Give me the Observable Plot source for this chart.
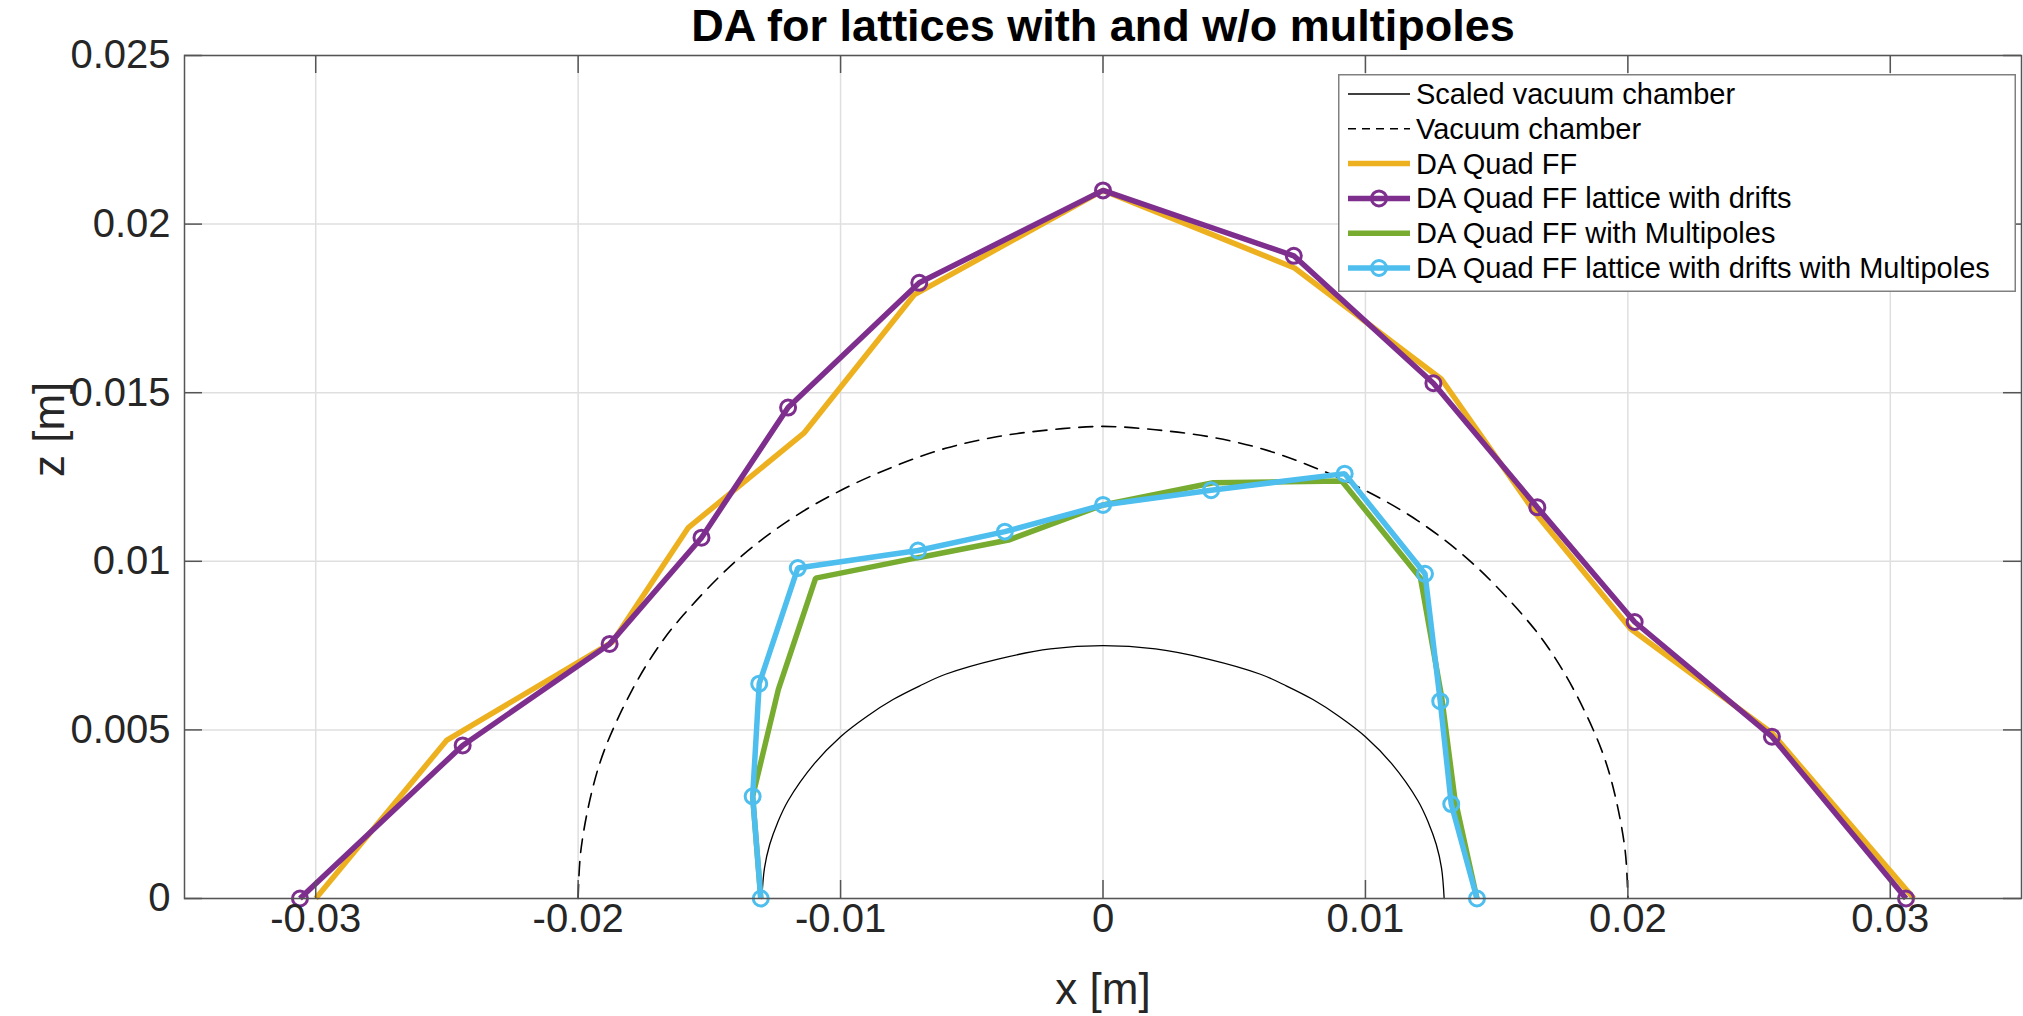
<!DOCTYPE html>
<html>
<head>
<meta charset="utf-8">
<script src="https://cdn.jsdelivr.net/npm/d3@7"></script>
<script src="https://cdn.jsdelivr.net/npm/@observablehq/plot@0.6"></script>
<style>
  html, body { margin: 0; padding: 0; background: #fff; }
  #wrap { position: relative; width: 2023px; height: 1016px; font-family: "Liberation Sans", Arial, Helvetica, sans-serif; }
  #legend { position: absolute; left: 1338px; top: 74px; }
</style>
</head>
<body>
<div id="wrap"></div>
<script>
// ---- data ----
const titleText = "DA for lattices with and w/o multipoles";
const xLabel = "x [m]";
const yLabel = "z [m]";
const xTicks = [-0.03, -0.02, -0.01, 0, 0.01, 0.02, 0.03];
const yTicks = [0, 0.005, 0.01, 0.015, 0.02, 0.025];

const seriesNames = [
  "Scaled vacuum chamber",
  "Vacuum chamber",
  "DA Quad FF",
  "DA Quad FF lattice with drifts",
  "DA Quad FF with Multipoles",
  "DA Quad FF lattice with drifts with Multipoles"
];
const seriesColors = ["#000000", "#000000", "#EDB120", "#7E2F8E", "#77AC30", "#4DBEEE"];

// Scaled vacuum chamber (solid thin)
const scaledX = [-0.0130, -0.0129, -0.0127, -0.0124, -0.0120, -0.0110, -0.0100, -0.0090, -0.0080, -0.0070, -0.0060, -0.0040, -0.0020, 0,
                 0.0020, 0.0040, 0.0060, 0.0070, 0.0080, 0.0090, 0.0100, 0.0110, 0.0120, 0.0124, 0.0127, 0.0129, 0.0130];
const scaledZ = [0, 0.0009, 0.0016, 0.00225, 0.0029, 0.0040, 0.0048, 0.0054, 0.0059, 0.0063, 0.00665, 0.0071, 0.0074, 0.0075,
                 0.0074, 0.0071, 0.00665, 0.0063, 0.0059, 0.0054, 0.0048, 0.0040, 0.0029, 0.00225, 0.0016, 0.0009, 0];

// Vacuum chamber (dashed)
const chamberX = [-0.0200, -0.0199, -0.0195, -0.0190, -0.0180, -0.0170, -0.0160, -0.0140, -0.0120, -0.0100, -0.0080, -0.0060, -0.0040, -0.0020, 0,
                  0.0020, 0.0040, 0.0060, 0.0080, 0.0100, 0.0120, 0.0140, 0.0160, 0.0170, 0.0180, 0.0190, 0.0195, 0.0199, 0.0200];
const chamberZ = [0, 0.0014, 0.0031, 0.0044, 0.0061, 0.0074, 0.0084, 0.0100, 0.0112, 0.0121, 0.0128, 0.01335, 0.0137, 0.0139, 0.0140,
                  0.0139, 0.0137, 0.01335, 0.0128, 0.0121, 0.0112, 0.0100, 0.0084, 0.0074, 0.0061, 0.0044, 0.0031, 0.0014, 0];

// DA Quad FF (orange)
const quadX = [-0.0300, -0.0250, -0.0187, -0.0158, -0.0114, -0.0072, 0, 0.0073, 0.0129, 0.0165, 0.0201, 0.0255, 0.0309];
const quadZ = [0, 0.0047, 0.0076, 0.0110, 0.0138, 0.0179, 0.0210, 0.0187, 0.0154, 0.0114, 0.0080, 0.0049, 0];

// DA Quad FF lattice with drifts (purple, circles)
const driftX = [-0.0306, -0.0244, -0.0188, -0.0153, -0.0120, -0.0070, 0, 0.00727, 0.01259, 0.01655, 0.02026, 0.02549, 0.0306];
const driftZ = [0, 0.00454, 0.00755, 0.0107, 0.01456, 0.01826, 0.0210, 0.01906, 0.01528, 0.0116, 0.0082, 0.0048, 0];

// DA Quad FF with Multipoles (green)
const multX = [-0.01304, -0.01335, -0.01237, -0.01095, -0.0071, -0.0036, 0, 0.0042, 0.0091, 0.0121, 0.0129, 0.0134, 0.01425];
const multZ = [0, 0.00303, 0.0062, 0.0095, 0.0101, 0.01063, 0.01167, 0.01233, 0.01238, 0.0095, 0.0060, 0.0030, 0];

// DA Quad FF lattice with drifts with Multipoles (cyan, circles)
const driftMultX = [-0.01304, -0.01335, -0.0131, -0.01163, -0.00705, -0.00374, 0, 0.00412, 0.00921, 0.01227, 0.01285, 0.01327, 0.01425];
const driftMultZ = [0, 0.00303, 0.00637, 0.0098, 0.01032, 0.01088, 0.01167, 0.01211, 0.0126, 0.00963, 0.00585, 0.0028, 0];

// ---- build tables ----
const toRows = (xs, zs) => xs.map((x, i) => ({x, z: zs[i]}));
const scaledRows = toRows(scaledX, scaledZ);
const chamberRows = toRows(chamberX, chamberZ);
const quadRows = toRows(quadX, quadZ);
const driftRows = toRows(driftX, driftZ);
const multRows = toRows(multX, multZ);
const driftMultRows = toRows(driftMultX, driftMultZ);

const W = 2023, H = 1016;
const mTop = 55, mBottom = 118, mLeft = 184, mRight = 2;
const frameW = W - mLeft - mRight, frameH = H - mTop - mBottom;
const tickLen = 18;
const axisGray = "#555555";
const gridGray = "#dfdfdf";
const thick = 5.5;
const fmt = d => String(d);
const lineOpts = {strokeLinejoin: "miter", strokeLinecap: "butt"};

const chart = Plot.plot({
  width: W, height: H,
  marginTop: mTop, marginBottom: mBottom, marginLeft: mLeft, marginRight: mRight,
  x: {domain: [-0.035, 0.035]},
  y: {domain: [0, 0.025]},
  style: {fontFamily: '"Liberation Sans", Arial, Helvetica, sans-serif', fontSize: "40px", color: "#262626", background: "#ffffff", overflow: "visible"},
  marks: [
    Plot.gridX(xTicks, {stroke: gridGray, strokeOpacity: 1, strokeWidth: 1.5}),
    Plot.gridY(yTicks, {stroke: gridGray, strokeOpacity: 1, strokeWidth: 1.5}),
    Plot.line(scaledRows, {x: "x", y: "z", stroke: seriesColors[0], strokeWidth: 1.3, curve: "catmull-rom"}),
    Plot.line(chamberRows, {x: "x", y: "z", stroke: seriesColors[1], strokeWidth: 1.6, strokeDasharray: "14,9", curve: "catmull-rom"}),
    Plot.line(quadRows, {x: "x", y: "z", stroke: seriesColors[2], strokeWidth: thick, ...lineOpts}),
    Plot.line(driftRows, {x: "x", y: "z", stroke: seriesColors[3], strokeWidth: thick, ...lineOpts}),
    Plot.dot(driftRows, {x: "x", y: "z", r: 7.5, stroke: seriesColors[3], strokeWidth: 3, fill: "none"}),
    Plot.line(multRows, {x: "x", y: "z", stroke: seriesColors[4], strokeWidth: thick, ...lineOpts}),
    Plot.line(driftMultRows, {x: "x", y: "z", stroke: seriesColors[5], strokeWidth: thick, ...lineOpts}),
    Plot.dot(driftMultRows, {x: "x", y: "z", r: 7.5, stroke: seriesColors[5], strokeWidth: 3, fill: "none"}),
    // inward ticks on all four sides
    Plot.tickX(xTicks, {x: d => d, insetTop: frameH - tickLen, stroke: axisGray, strokeWidth: 1.5}),
    Plot.tickX(xTicks, {x: d => d, insetBottom: frameH - tickLen, stroke: axisGray, strokeWidth: 1.5}),
    Plot.tickY(yTicks, {y: d => d, insetRight: frameW - tickLen, stroke: axisGray, strokeWidth: 1.5}),
    Plot.tickY(yTicks, {y: d => d, insetLeft: frameW - tickLen, stroke: axisGray, strokeWidth: 1.5}),
    Plot.frame({stroke: axisGray, strokeWidth: 1.5}),
    Plot.axisX(xTicks, {tickSize: 0, tickPadding: 5, tickFormat: fmt, label: null, fill: "#262626"}),
    Plot.axisY(yTicks, {tickSize: 0, tickPadding: 14, tickFormat: fmt, label: null, fill: "#262626"}),
    Plot.text([titleText], {frameAnchor: "top", dy: -29, fontSize: 45, fontWeight: "bold", fill: "#000000", lineAnchor: "middle"}),
    Plot.text([xLabel], {frameAnchor: "bottom", dy: 91, fontSize: 44, fill: "#262626", lineAnchor: "middle"}),
    Plot.text([yLabel], {frameAnchor: "left", dx: -135, rotate: -90, fontSize: 44, fill: "#262626", lineAnchor: "middle"})
  ]
});
const wrap = document.getElementById("wrap");
wrap.appendChild(chart);

// ---- legend ----
const lgW = 678, lgH = 218, rowH = 34.8, row0 = 20, swX1 = 10, swX2 = 72, txtX = 78;
const ns = "http://www.w3.org/2000/svg";
const lg = d3.create("svg").attr("id", "legend").attr("width", lgW).attr("height", lgH)
  .attr("xmlns", ns);
lg.append("rect").attr("x", 0.75).attr("y", 0.75).attr("width", lgW - 1.5).attr("height", lgH - 1.5)
  .attr("fill", "#ffffff").attr("stroke", "#808080").attr("stroke-width", 1.5);
const styles = [
  {w: 1.3, dash: null, marker: false},
  {w: 1.6, dash: "8,6", marker: false},
  {w: thick, dash: null, marker: false},
  {w: thick, dash: null, marker: true},
  {w: thick, dash: null, marker: false},
  {w: thick, dash: null, marker: true}
];
seriesNames.forEach((name, i) => {
  const cy = row0 + i * rowH;
  const s = styles[i];
  const ln = lg.append("line").attr("x1", swX1).attr("x2", swX2).attr("y1", cy).attr("y2", cy)
    .attr("stroke", seriesColors[i]).attr("stroke-width", s.w);
  if (s.dash) ln.attr("stroke-dasharray", s.dash);
  if (s.marker) lg.append("circle").attr("cx", (swX1 + swX2) / 2).attr("cy", cy).attr("r", 7.5)
    .attr("fill", "none").attr("stroke", seriesColors[i]).attr("stroke-width", 3);
  lg.append("text").attr("x", txtX).attr("y", cy + 10).text(name)
    .attr("font-family", '"Liberation Sans", Arial, Helvetica, sans-serif')
    .attr("font-size", 29).attr("fill", "#000000");
});
wrap.appendChild(lg.node());
</script>
</body>
</html>
